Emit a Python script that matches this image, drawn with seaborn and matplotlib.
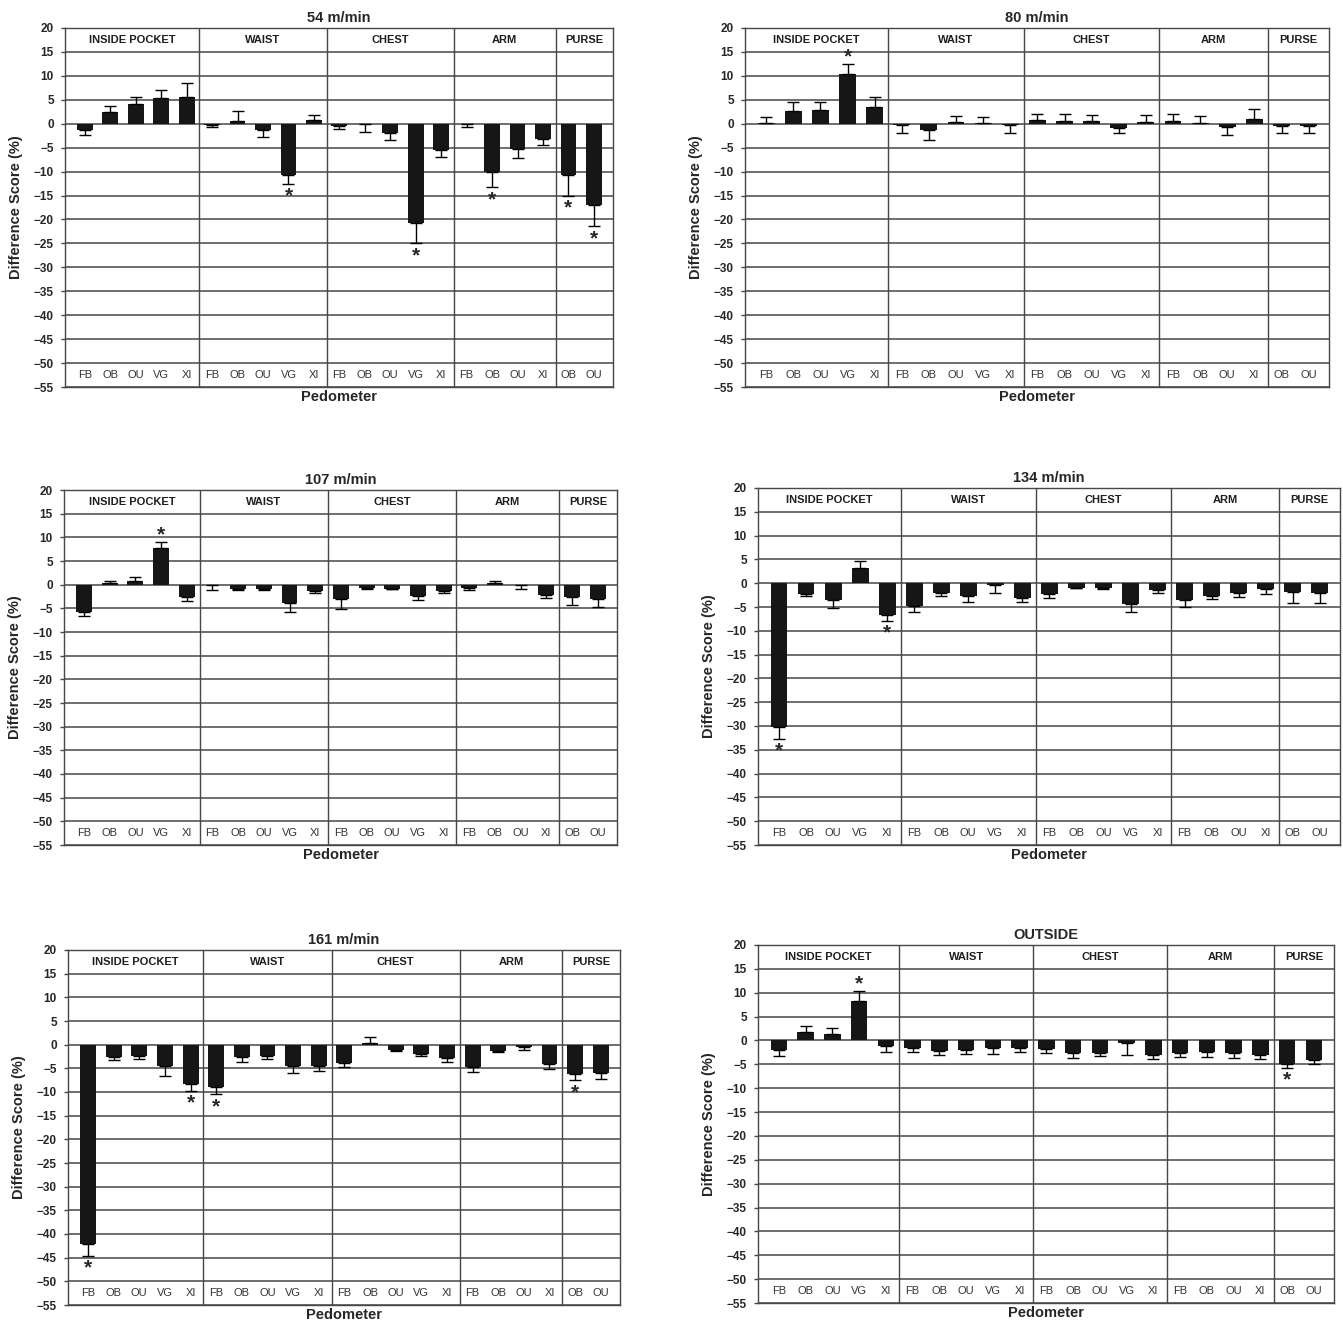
import numpy as np
import pandas as pd
import matplotlib
matplotlib.use("Agg")
import matplotlib.pyplot as plt
import seaborn as sns

# Placement groups and the pedometers in each
groups = ["INSIDE POCKET", "WAIST", "CHEST", "ARM", "PURSE"]
group_meters = [["FB", "OB", "OU", "VG", "XI"],
                ["FB", "OB", "OU", "VG", "XI"],
                ["FB", "OB", "OU", "VG", "XI"],
                ["FB", "OB", "OU", "XI"],
                ["OB", "OU"]]

titles = ["54 m/min", "80 m/min", "107 m/min", "134 m/min", "161 m/min", "OUTSIDE"]

# Mean difference score (%) per bar, error bar length, bars flagged with *
vals_54 = [-1.4, 2.4, 4.1, 5.3, 5.5, -0.2, 0.55, -1.4, -10.8, 0.8, -0.55, -0.1, -2.0, -20.8, -5.4, -0.15, -10.0, -5.2, -3.1, -10.8, -16.9]
err_54 = [0.9, 1.4, 1.4, 1.7, 3.1, 0.5, 2.15, 1.4, 1.7, 1.1, 0.55, 1.6, 1.3, 4.1, 1.5, 0.45, 3.2, 2.0, 1.4, 4.2, 4.5]
sig_54 = [8, 13, 16, 19, 20]

vals_80 = [0.05, 2.6, 2.9, 10.4, 3.5, -0.35, -1.4, 0.3, 0.15, -0.35, 0.75, 0.55, 0.5, -0.8, 0.4, 0.55, 0.25, -0.6, 1.0, -0.55, -0.55]
err_80 = [1.45, 1.9, 1.7, 2.1, 2.0, 1.65, 2.0, 1.4, 1.35, 1.65, 1.35, 1.4, 1.4, 1.2, 1.35, 1.4, 1.4, 1.8, 2.0, 1.45, 1.45]
sig_80 = [3]

vals_107 = [-5.7, 0.3, 0.7, 7.7, -2.5, -0.15, -0.9, -0.85, -3.8, -1.3, -3.0, -0.75, -0.85, -2.4, -1.3, -0.8, 0.35, -0.15, -2.1, -2.5, -3.0]
err_107 = [0.9, 0.5, 1.0, 1.3, 0.9, 0.9, 0.15, 0.25, 2.0, 0.5, 2.1, 0.15, 0.15, 0.8, 0.5, 0.4, 0.5, 0.75, 0.65, 1.9, 1.8]
sig_107 = [3]

vals_134 = [-30.2, -2.25, -3.5, 3.2, -6.65, -4.8, -2.0, -2.7, -0.4, -3.1, -2.25, -1.0, -1.1, -4.35, -1.5, -3.55, -2.65, -2.0, -1.2, -1.8, -2.0]
err_134 = [2.5, 0.45, 1.7, 1.4, 1.25, 1.2, 0.65, 1.2, 1.6, 0.8, 0.95, 0.1, 0.2, 1.65, 0.5, 1.55, 0.7, 0.8, 1.05, 2.3, 2.1]
sig_134 = [0, 4]

vals_161 = [-42.1, -2.6, -2.45, -4.45, -8.3, -8.9, -2.7, -2.4, -4.45, -4.45, -3.9, 0.3, -1.1, -1.9, -2.75, -4.7, -1.4, -0.5, -4.15, -6.1, -6.05]
err_161 = [2.5, 0.6, 0.5, 2.1, 1.4, 1.6, 0.95, 0.55, 1.55, 1.05, 0.8, 1.3, 0.2, 0.4, 0.95, 1.15, 0.15, 0.6, 1.05, 1.35, 1.2]
sig_161 = [0, 4, 5, 19]

vals_out = [-2.1, 1.75, 1.4, 8.2, -1.2, -1.65, -2.15, -1.95, -1.5, -1.6, -1.8, -2.7, -2.55, -0.45, -3.1, -2.55, -2.5, -2.7, -3.0, -4.9, -4.15]
err_out = [1.1, 1.35, 1.25, 2.1, 1.3, 0.7, 0.85, 0.85, 1.4, 0.9, 0.9, 0.9, 0.8, 2.6, 0.85, 0.85, 0.9, 0.9, 0.8, 0.8, 0.8]
sig_out = [3, 19]

all_vals = [vals_54, vals_80, vals_107, vals_134, vals_161, vals_out]
all_err = [err_54, err_80, err_107, err_134, err_161, err_out]
all_sig = [sig_54, sig_80, sig_107, sig_134, sig_161, sig_out]

# panel boxes in pixels: left, right, top, bottom
boxes = [(65, 613, 28, 387), (745, 1329, 28, 387),
         (64, 617, 490, 845), (758, 1340, 488, 845),
         (68, 620, 950, 1305), (758, 1334, 945, 1303)]

sns.set_style("white")
plt.rcParams['font.family'] = ['Liberation Sans', 'DejaVu Sans']

W, H = 1343, 1324
fig = plt.figure(figsize=(W / 100, H / 100), dpi=100)

meter_labels = [m for g in group_meters for m in g]
slots = list(range(len(meter_labels)))
bounds = np.cumsum([len(g) for g in group_meters])[:-1] - 0.5
x_lo, x_hi = -0.78, len(meter_labels) - 0.25
line_c = "#474747"

for k in range(6):
    l, r, t, b = boxes[k]
    ax = fig.add_axes([l / W, 1 - b / H, (r - l) / W, (b - t) / H])
    df = pd.DataFrame({"slot": slots, "value": all_vals[k], "err": all_err[k]})

    sns.barplot(data=df, x="slot", y="value", color="#161616", saturation=1,
                width=0.62, errorbar=None, ax=ax, zorder=3, linewidth=0, edgecolor="none")

    # one-sided error bars in the direction of the bar
    up = np.where(df["value"] >= 0, df["err"], 0)
    down = np.where(df["value"] < 0, df["err"], 0)
    ax.errorbar(df["slot"], df["value"], yerr=[down, up], fmt="none", ecolor="black",
                elinewidth=1, capsize=4, capthick=1, zorder=4)

    # significance asterisks beyond the error bar tip
    for i in all_sig[k]:
        v = df["value"][i]
        tip = v + df["err"][i] if v >= 0 else v - df["err"][i]
        off = 5 if v >= 0 else -9
        ax.annotate("*", xy=(i, tip), xytext=(0, off), textcoords="offset points",
                    ha="center", va="center", fontsize=15, fontweight="bold", zorder=5)

    ax.set_xlim(x_lo, x_hi)
    ax.set_ylim(-55, 20)
    ax.set_yticks(range(-55, 21, 5))
    ax.yaxis.grid(True, color=line_c, lw=1.1)
    ax.xaxis.grid(False)
    ax.set_axisbelow(True)
    for xb in bounds:
        ax.axvline(xb, color=line_c, lw=1, zorder=2)

    # group headers in the top row
    edges = [x_lo] + list(bounds) + [x_hi]
    for g in range(len(groups)):
        ax.text((edges[g] + edges[g + 1]) / 2, 17.5, groups[g], ha="center", va="center",
                fontsize=8, fontweight="bold", color="#1e1e1e")

    ax.set_xticks(slots)
    ax.set_xticklabels(meter_labels)
    ax.tick_params(axis="x", length=0, pad=-12, labelsize=8, labelcolor="#333333")
    ax.tick_params(axis="y", length=3, width=1, color=line_c, pad=5, labelsize=8.5,
                   left=True, direction="out")
    for lab in ax.get_yticklabels():
        lab.set_fontweight("bold")

    for sp in ax.spines.values():
        sp.set_color(line_c)
        sp.set_linewidth(1)
        sp.set_visible(True)

    ax.set_title(titles[k], fontsize=10.5, fontweight="bold", pad=4)
    ax.set_xlabel("Pedometer", fontsize=10.5, fontweight="bold", labelpad=2)
    ax.set_ylabel("Difference Score (%)", fontsize=10.5, fontweight="bold", labelpad=8)

fig.savefig("out.png", dpi=100)
